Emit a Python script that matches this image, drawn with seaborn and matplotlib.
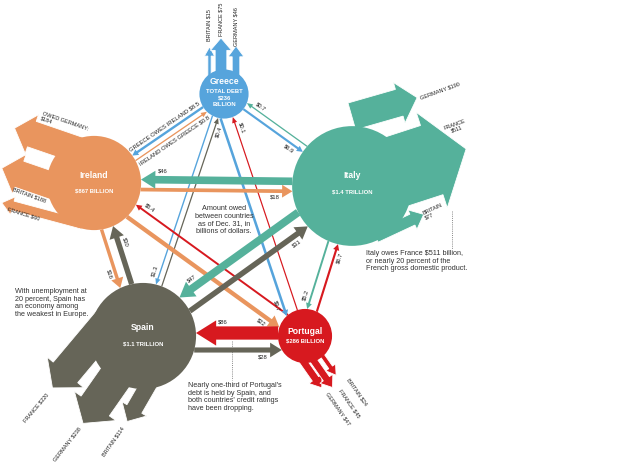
import numpy as np
import pandas as pd
import matplotlib
matplotlib.use("Agg")
import matplotlib.pyplot as plt
from matplotlib.patches import FancyArrow
import seaborn as sns

# ---- data: debt in billions of dollars, as of Dec. 31 ----
countries = ["Greece", "Ireland", "Italy", "Spain", "Portugal"]
total_debt = [236, 867, 1400, 1100, 286]
total_text = ["TOTAL DEBT\n$236\nBILLION", "$867 BILLION", "$1.4 TRILLION",
              "$1.1 TRILLION", "$286 BILLION"]

# debts among the five countries (debtor owes creditor)
debtor = ["Greece", "Ireland", "Greece", "Italy", "Greece", "Portugal", "Greece", "Spain",
          "Italy", "Ireland", "Italy", "Spain", "Italy", "Portugal",
          "Ireland", "Spain", "Ireland", "Portugal", "Spain", "Portugal"]
creditor = ["Ireland", "Greece", "Italy", "Greece", "Portugal", "Greece", "Spain", "Greece",
            "Ireland", "Italy", "Spain", "Italy", "Portugal", "Italy",
            "Spain", "Ireland", "Portugal", "Ireland", "Portugal", "Spain"]
owed = [8.5, 0.8, 6.9, 0.7, 9.7, 0.1, 1.3, 0.4,
        46, 18, 47, 31, 5.2, 6.7,
        16, 30, 22, 5.4, 28, 86]

# debts owed to Britain, France and Germany
ext_debtor = ["Greece"] * 3 + ["Ireland"] * 3 + ["Italy"] * 3 + ["Spain"] * 3 + ["Portugal"] * 3
ext_lender = ["Britain", "France", "Germany",
              "Germany", "Britain", "France",
              "Germany", "France", "Britain",
              "France", "Germany", "Britain",
              "Germany", "France", "Britain"]
ext_owed = [15, 75, 46, 184, 188, 60, 190, 511, 77, 220, 238, 114, 47, 45, 24]

# ---- layout (pixel space of the 640x467 picture) ----
colors = {"Greece": "#56a4dc", "Ireland": "#e9955e", "Italy": "#55b19b",
          "Spain": "#666558", "Portugal": "#d7191f"}
node_xy = {"Greece": (224, 94), "Ireland": (94, 183), "Italy": (352, 186),
           "Spain": (143, 336), "Portugal": (305, 336)}
text_dy = {"Greece": (-13, 4), "Ireland": (-7, 8), "Italy": (-10, 6),
           "Spain": (-9, 8), "Portugal": (-5, 5)}
# sideways offset of each arrow from the line joining the two circles
lane = {("Greece", "Ireland"): 1, ("Ireland", "Greece"): 5,
        ("Greece", "Italy"): 1, ("Italy", "Greece"): 6,
        ("Greece", "Portugal"): 11, ("Portugal", "Greece"): 1,
        ("Greece", "Spain"): 4, ("Spain", "Greece"): 2,
        ("Italy", "Ireland"): 4, ("Ireland", "Italy"): 6,
        ("Italy", "Spain"): 10, ("Spain", "Italy"): 7,
        ("Italy", "Portugal"): 6, ("Portugal", "Italy"): 4,
        ("Ireland", "Spain"): 7, ("Spain", "Ireland"): 5,
        ("Ireland", "Portugal"): 8, ("Portugal", "Ireland"): 7,
        ("Spain", "Portugal"): 14, ("Portugal", "Spain"): 3}
spelled_out = {("Greece", "Ireland"), ("Ireland", "Greece")}
# big lender arrows: angle, sideways offset, start, tip (along the arrow)
ext_geom = {("Greece", "Britain"): (-90, -14.5, 0, 47), ("Greece", "France"): (-90, -3, 0, 56),
            ("Greece", "Germany"): (-90, 12, 0, 48),
            ("Ireland", "Germany"): (199, 26, 0, 93), ("Ireland", "Britain"): (199, -16, 0, 92),
            ("Ireland", "France"): (195, -43, 0, 84),
            ("Italy", "Germany"): (-16, -67, 19, 87), ("Italy", "France"): (-18, 0, 0, 120),
            ("Italy", "Britain"): (-25, 56, 0, 53),
            ("Spain", "France"): (130, 36, 0, 98), ("Spain", "Germany"): (125, -1, 0, 106),
            ("Spain", "Britain"): (120, -29, 0, 82),
            ("Portugal", "Germany"): (55, 16, 0, 52), ("Portugal", "France"): (55, 7, 0, 58),
            ("Portugal", "Britain"): (55, -3, 0, 50)}
# label anchor x, y, rotation, ha, va
ext_label = {("Greece", "Britain"): (209, 41, 90, "left", "center"),
             ("Greece", "France"): (221, 36, 90, "left", "center"),
             ("Greece", "Germany"): (236, 46, 90, "left", "center"),
             ("Ireland", "Germany"): (43, 111, -19, "left", "top"),
             ("Ireland", "Britain"): (13, 189, -20, "left", "center"),
             ("Ireland", "France"): (8, 209, -17, "left", "center"),
             ("Italy", "Germany"): (420, 98, 20, "left", "center"),
             ("Italy", "France"): (456, 127, 20, "center", "center"),
             ("Italy", "Britain"): (424, 216, 25, "left", "center"),
             ("Spain", "France"): (48, 394, 50, "right", "center"),
             ("Spain", "Germany"): (80, 428, 52, "right", "center"),
             ("Spain", "Britain"): (123, 427, 55, "right", "center"),
             ("Portugal", "Germany"): (327, 393, -55, "left", "center"),
             ("Portugal", "France"): (340, 390, -55, "left", "center"),
             ("Portugal", "Britain"): (348, 379, -55, "left", "center")}
ext_text = {("Ireland", "Germany"): "OWED GERMANY:\n$184",
            ("Italy", "France"): "FRANCE\n$511", ("Italy", "Britain"): "BRITAIN\n$77"}

sns.set_theme(style="white")
plt.rcParams["font.family"] = ["Liberation Sans", "DejaVu Sans"]
NARROW = ["Liberation Sans Narrow", "Liberation Sans", "DejaVu Sans"]

fig = plt.figure(figsize=(6.4, 4.67), dpi=100, facecolor="white")
ax = fig.add_axes([0, 0, 1, 1])

radius = {c: 1.6 * np.sqrt(t) for c, t in zip(countries, total_debt)}


def width_of(amount):
    return 1.2 + 0.14 * amount


def text_angle(u):
    ang = np.degrees(np.arctan2(-u[1], u[0]))
    if ang > 90:
        ang -= 180
    if ang <= -90:
        ang += 180
    return ang


# arrows to the big lenders (behind the circles)
for d, l, amt in zip(ext_debtor, ext_lender, ext_owed):
    ang, lat, s0, s1 = ext_geom[(d, l)]
    u = np.array([np.cos(np.radians(ang)), np.sin(np.radians(ang))])
    n = np.array([-u[1], u[0]])
    base = np.array(node_xy[d]) + lat * n
    p0, p1 = base + s0 * u, base + s1 * u
    w = width_of(amt)
    hw = 1.3 * w + 6
    hl = 0.3 * hw + 6
    ax.add_patch(FancyArrow(p0[0], p0[1], *(p1 - p0), width=w, head_width=hw, head_length=hl,
                            length_includes_head=True, fc=colors[d], ec="white", lw=0.6, zorder=2))
    x, y, rot, ha, va = ext_label[(d, l)]
    ax.text(x, y, ext_text.get((d, l), f"{l.upper()} ${amt}"), rotation=rot, ha=ha, va=va,
            rotation_mode="anchor", fontsize=4.0, family=NARROW, color="#222222",
            multialignment="left" if ha == "left" else "center", linespacing=1.1, zorder=7)

# arrows between the five countries
flows = pd.DataFrame({"debtor": debtor, "creditor": creditor, "owed": owed}).sort_values("owed")
for k, row in enumerate(flows.itertuples()):
    d, c, amt = row.debtor, row.creditor, row.owed
    c0, c1 = np.array(node_xy[d], float), np.array(node_xy[c], float)
    u = (c1 - c0) / np.hypot(*(c1 - c0))
    n = np.array([-u[1], u[0]])
    off = lane[(d, c)]
    p0 = c0 + u * np.sqrt(radius[d] ** 2 - off ** 2) + n * off
    p1 = c1 - u * np.sqrt(radius[c] ** 2 - off ** 2) + n * off
    w = width_of(amt)
    hw = 1.3 * w + (8 if amt >= 10 else 3.5)
    hl = max(6, 0.8 * hw)
    ax.add_patch(FancyArrow(p0[0], p0[1], *(p1 - p0), width=w, head_width=hw, head_length=hl,
                            length_includes_head=True, fc=colors[d], lw=0, zorder=3 + k * 0.01))
    if (d, c) in spelled_out:
        pos = (p0 + p1) / 2 + n * (w / 2 + 5)
        label = f"{d.upper()} OWES {c.upper()} ${amt:g}"
    else:
        pos = p1 - u * (hl + 7) + n * (w / 2 + 4.5)
        label = f"${amt:g}"
    ax.text(pos[0], pos[1], label, rotation=text_angle(u), rotation_mode="anchor",
            ha="center", va="center", fontsize=4.2, family=NARROW, color="#222222", zorder=7)

# the circles, area proportional to total debt
nodes = pd.DataFrame({"country": countries, "total": total_debt,
                      "x": [node_xy[c][0] for c in countries],
                      "y": [node_xy[c][1] for c in countries]})
pt_per_px = 72 / fig.dpi
k_size = (2 * 1.6 * pt_per_px) ** 2
sns.scatterplot(data=nodes, x="x", y="y", hue="country", palette=colors, size="total",
                sizes=(k_size * min(total_debt), k_size * max(total_debt)),
                size_norm=(min(total_debt), max(total_debt)), linewidth=0,
                legend=False, ax=ax, zorder=5)

for c, tt in zip(countries, total_text):
    x, y = node_xy[c]
    dn, dt = text_dy[c]
    ax.text(x, y + dn, c, ha="center", va="center", color="white", fontsize=6.2,
            fontweight="bold", zorder=8)
    ax.text(x, y + dt, tt, ha="center", va="center", color="white", fontsize=4.2,
            fontweight="bold", linespacing=1.3, zorder=8)

# notes
note_kw = dict(fontsize=5.2, color="#333333", zorder=8)
ax.text(224, 220, "Amount owed\nbetween countries\nas of Dec. 31, in\nbillions of dollars.",
        ha="center", va="center", linespacing=1.15, **note_kw)
ax.text(15, 288, "With unemployment at\n20 percent, Spain has\nan economy among\nthe weakest in Europe.",
        ha="left", va="top", linespacing=1.15, **note_kw)
ax.text(366, 250, "Italy owes France $511 billion,\nor nearly 20 percent of the\nFrench gross domestic product.",
        ha="left", va="top", linespacing=1.15, **note_kw)
ax.text(188, 382, "Nearly one-third of Portugal's\ndebt is held by Spain, and\nboth countries' credit ratings\nhave been dropping.",
        ha="left", va="top", linespacing=1.15, **note_kw)
ax.plot([452, 452], [211, 249], ls=(0, (1, 1.2)), lw=0.7, color="#888888", zorder=1)
ax.plot([232, 232], [341, 380], ls=(0, (1, 1.2)), lw=0.7, color="#888888", zorder=1)

ax.set_xlim(0, 640)
ax.set_ylim(467, 0)
ax.axis("off")
fig.savefig("out.png", dpi=100, facecolor="white")
